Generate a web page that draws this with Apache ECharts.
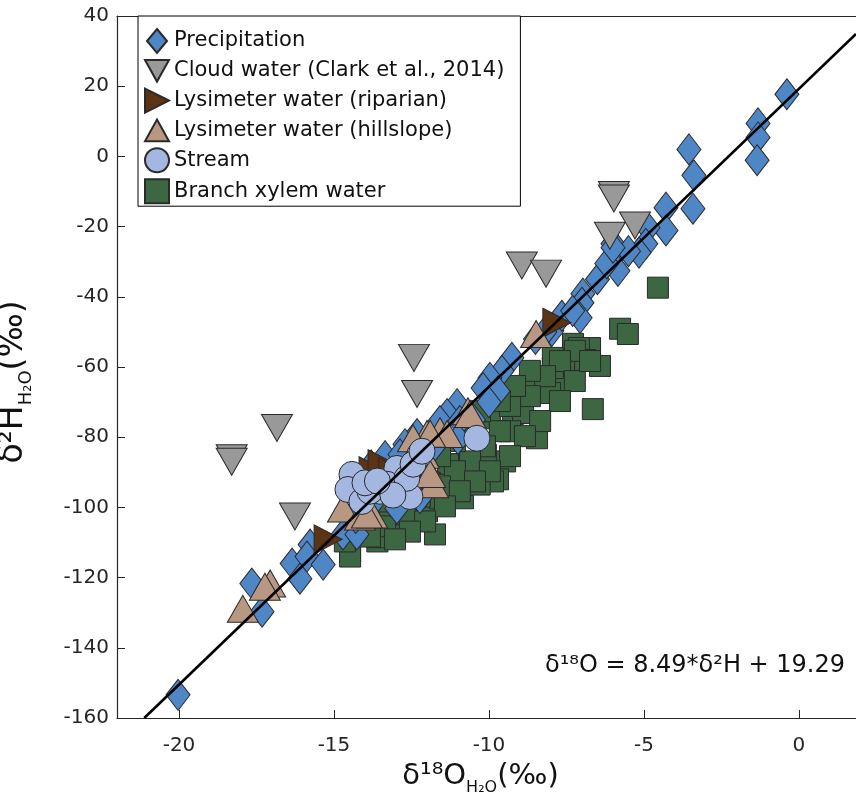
<!DOCTYPE html>
<html>
<head>
<meta charset="utf-8">
<script src="https://cdn.jsdelivr.net/npm/echarts@6/dist/echarts.min.js"></script>
<style>html,body{margin:0;padding:0;background:#fff}#c{width:856px;height:799px}</style>
</head>
<body>
<div id="c"></div>
<script>
// ---- data ----
const xTicks = [-20, -15, -10, -5, 0];
const yTicks = [-160, -140, -120, -100, -80, -60, -40, -20, 0, 20, 40];

const precipitation = [
  [-0.39,17.7],[-1.32,9.4],[-1.32,5.4],[-1.35,-1.1],[-3.55,2.0],[-3.39,-5.4],[-3.42,-14.9],
  [-4.29,-14.6],[-4.29,-21.1],[-4.87,-20.3],[-4.94,-24.9],[-5.16,-27.4],[-6.0,-24.9],[-6.03,-28.9],
  [-5.84,-32.6],[-6.97,-39.1],[-7.0,-41.7],[-7.06,-46],[-7.97,-49.7],[-7.65,-45.4],[-9.26,-57.4],
  [-9.58,-61.1],[-9.97,-63.1],[-10.19,-66],[-9.71,-66.9],[-11.03,-70.6],[-11.35,-73.4],[-11.58,-75.4],
  [-10.94,-75.4],[-12.32,-79.1],[-12.71,-82],[-13.35,-85.4],[-13.8,-88],[-12.87,-84.9],
  [-12.97,-100.3],[-12.23,-97.4],[-15.77,-110.6],[-16.35,-116],[-16.1,-120.3],[-15.87,-114],
  [-15.35,-116.3],[-14.71,-107.7],[-14.26,-107.7],[-17.65,-121.7],[-17.32,-129.7],[-20.03,-153.4],
  [-14.0,-100],[-13.6,-97],[-14.3,-103],[-11.0,-80.5],[-10.5,-75],[-10.0,-70],[-11.8,-83],
  [-12.5,-87],[-8.5,-52],[-8.2,-50],[-7.3,-44],[-6.5,-35],[-6.2,-30.5],[-5.5,-27],[-6.0,-26]
];
const cloudWater = [
  [-18.3,-86],[-18.3,-87],[-16.84,-77.4],[-16.26,-102.6],[-12.42,-57.4],[-12.32,-67.7],
  [-5.97,-11],[-5.97,-12],[-6.1,-22.6],[-5.29,-19.7],[-8.94,-31.1],[-8.16,-33.4]
];
const lysRiparian = [
  [-7.81,-47.4],[-15.19,-109.1],[-13.74,-89.7],[-13.45,-87.7],[-12.0,-90.3],[-12.06,-93.4],
  [-13.1,-90],[-12.4,-92]
];
const lysHillslope = [
  [-8.48,-50.6],[-10.68,-72.6],[-11.58,-78.3],[-12.0,-79.1],[-12.45,-80.3],[-10.61,-73.4],
  [-11.35,-79.1],[-11.8,-93.4],[-14.71,-100.3],[-14.16,-102.6],[-13.77,-102],[-17.06,-121.7],
  [-17.23,-122.6],[-17.94,-128.9],[-13.94,-102],[-11.9,-79],[-12.1,-85],[-11.9,-90.5]
];
const stream = [
  [-10.39,-80.3],[-12.23,-84.9],[-12.97,-88.9],[-14.42,-90.6],[-14.55,-94.9],[-14.1,-98.3],
  [-13.52,-95.4],[-12.97,-94.6],[-12.55,-96.9],[-13.84,-95.4],[-13.29,-93.4],[-12.65,-91.7],
  [-12.45,-87.7],[-12.16,-84],[-14.0,-93],[-13.1,-96.5],[-13.6,-92.5]
];
const branchXylem = [
  [-4.55,-37.4],[-5.77,-49.1],[-5.52,-50.6],[-6.65,-72],[-8.45,-80.3],[-6.74,-55.4],[-7.29,-53.4],
  [-6.74,-54.6],[-7.1,-54.6],[-7.39,-60.3],[-6.9,-58],[-7.81,-64.9],[-7.94,-60.3],[-8.58,-66.9],
  [-9.42,-69.7],[-9.23,-73.4],[-8.9,-73.1],[-9.97,-74.6],[-9.32,-78.3],[-9.48,-86.9],[-9.71,-92],
  [-10.84,-97.4],[-11.26,-87.7],[-10.29,-88.9],[-8.03,-67.4],[-7.94,-57.4],[-11.74,-107.7],
  [-9.87,-92.6],[-10.3,-93.5],[-11.32,-87.7],[-10.1,-85],[-14.48,-112.6],[-13.6,-109.7],
  [-13.19,-107.7],[-12.87,-104],[-12.0,-101.1],[-11.58,-97.4],[-14.48,-114],[-13.6,-108.5],
  [-13.2,-102],[-7.23,-55.4],[-7.71,-58.3],[-8.19,-62.6],[-8.68,-68.3],[-9.32,-71.1],[-9.65,-78.3],
  [-10.13,-82.6],[-10.61,-86.9],[-11.1,-89.7],[-11.58,-94],[-12.23,-96.9],[-12.71,-101.1],
  [-13.35,-105.4],[-13.84,-108.3],[-6.42,-59.7],[-7.23,-64],[-7.71,-69.7],[-8.35,-75.4],
  [-8.84,-79.7],[-9.32,-85.4],[-9.97,-89.7],[-10.45,-92.6],[-10.94,-95.4],[-11.42,-99.7],
  [-12.06,-104],[-12.55,-106.9],[-13.03,-109.1],[-8.68,-61.1],[-9.16,-65.4],[-9.65,-69.7],
  [-10.29,-72.6],[-10.77,-76.9],[-11.1,-81.1],[-11.58,-85.4],[-12.06,-89.7],[-12.55,-92.6],
  [-13.03,-95.4],[-13.52,-98.3],[-14.0,-101.1],[-14.32,-105.4],[-14.65,-109.7],[-6.74,-58.3]
];
const fitLine = [[-21.12,-160.0],[1.84,34.9]];
const equationText = 'δ¹⁸O = 8.49*δ²H + 19.29';

// ---- chart ----
const FONT = 'DejaVu Sans';
const EDGE = '#2a2a2a';
const SYM = {
  diamond: 'path://M5,0L10,6L5,12L0,6Z',
  down: 'path://M0,0L10,0L5,9Z',
  right: 'path://M0,0L10,5L0,10Z',
  up: 'path://M5,0L10,9L0,9Z'
};
function sc(name, data, symbol, size, color, z) {
  return {
    name, type: 'scatter', data, symbol, symbolSize: size, z,
    itemStyle: { color, borderColor: EDGE, borderWidth: 1, opacity: 1 },
    emphasis: { disabled: true }
  };
}
const chart = echarts.init(document.getElementById('c'), null, { renderer: 'canvas' });
chart.setOption({
  animation: false,
  backgroundColor: '#fff',
  textStyle: { fontFamily: FONT },
  grid: { left: 117, right: 0, top: 16, bottom: 81, containLabel: false, outerBoundsMode: 'none' },
  xAxis: [{
    type: 'value', min: -22, max: 1.84, position: 'bottom',
    axisLine: { show: true, onZero: false, lineStyle: { color: '#262626', width: 1.2 } },
    axisTick: { show: true, inside: true, length: 8, customValues: xTicks, lineStyle: { color: '#262626' } },
    axisLabel: { customValues: xTicks, fontSize: 20, color: '#262626', margin: 18, fontFamily: FONT },
    splitLine: { show: false },
    name: '{a|δ¹⁸O}{s|H₂O}{a|(‰)}', nameLocation: 'middle', nameGap: 44,
    nameTextStyle: {
      padding: [0, 12, 0, 0],
      rich: {
        a: { fontSize: 29, fontFamily: FONT, color: '#111', lineHeight: 34, verticalAlign: 'top' },
        s: { fontSize: 16, fontFamily: FONT, color: '#111', lineHeight: 18, verticalAlign: 'bottom' }
      },
      lineHeight: 42
    }
  }, {
    type: 'value', min: -22, max: 1.84, position: 'top',
    axisLine: { show: true, onZero: false, lineStyle: { color: '#262626', width: 1.2 } },
    axisTick: { show: false }, axisLabel: { show: false }, splitLine: { show: false }
  }],
  yAxis: {
    type: 'value', min: -160, max: 40, interval: 20,
    axisLine: { show: true, onZero: false, lineStyle: { color: '#262626', width: 1.2 } },
    axisTick: { show: true, inside: true, length: 8, lineStyle: { color: '#262626' } },
    axisLabel: { fontSize: 20, color: '#262626', margin: 8, fontFamily: FONT },
    splitLine: { show: false },
    name: '{a|δ²H}{s|H₂O}{a|(‰)}', nameLocation: 'middle', nameGap: 82, nameRotate: 90,
    nameTextStyle: {
      padding: [0, 30, 0, 0],
      rich: {
        a: { fontSize: 33, fontFamily: FONT, color: '#111', lineHeight: 38, verticalAlign: 'top' },
        s: { fontSize: 18, fontFamily: FONT, color: '#111', lineHeight: 20, verticalAlign: 'bottom' }
      },
      lineHeight: 46
    }
  },
  legend: {
    orient: 'vertical', left: 138, top: 16,
    padding: [12, 16, 2, 6], itemGap: 5, itemWidth: 24, itemHeight: 24,
    borderColor: '#000', borderWidth: 1, backgroundColor: '#fff',
    textStyle: { fontSize: 21, color: '#111', fontFamily: FONT },
    selectedMode: false,
    data: [
      { name: 'Precipitation', icon: SYM.diamond },
      { name: 'Cloud water (Clark et al., 2014)', icon: SYM.down },
      { name: 'Lysimeter water (riparian)', icon: SYM.right },
      { name: 'Lysimeter water (hillslope)', icon: SYM.up },
      { name: 'Stream', icon: 'circle' },
      { name: 'Branch xylem water', icon: 'rect' }
    ]
  },
  graphic: [{
    type: 'text', right: 11, top: 654,
    style: { text: equationText, font: '24px "DejaVu Sans"', fill: '#111' }
  }],
  series: [
    sc('Precipitation', precipitation, SYM.diamond, [24, 31], '#4f86c6', 3),
    sc('Cloud water (Clark et al., 2014)', cloudWater, SYM.down, [31, 27], '#999999', 4),
    sc('Lysimeter water (riparian)', lysRiparian, SYM.right, [28, 29], '#5c3413', 5),
    sc('Lysimeter water (hillslope)', lysHillslope, SYM.up, [31, 27], '#b89883', 6),
    sc('Stream', stream, 'circle', 26, '#a4b7e0', 7),
    sc('Branch xylem water', branchXylem, 'rect', 21, '#3d6642', 2),
    {
      name: 'fit', type: 'line', data: fitLine, symbol: 'none', z: 10, clip: true,
      lineStyle: { color: '#000', width: 2.6 }, emphasis: { disabled: true }
    }
  ]
});
</script>
</body>
</html>
